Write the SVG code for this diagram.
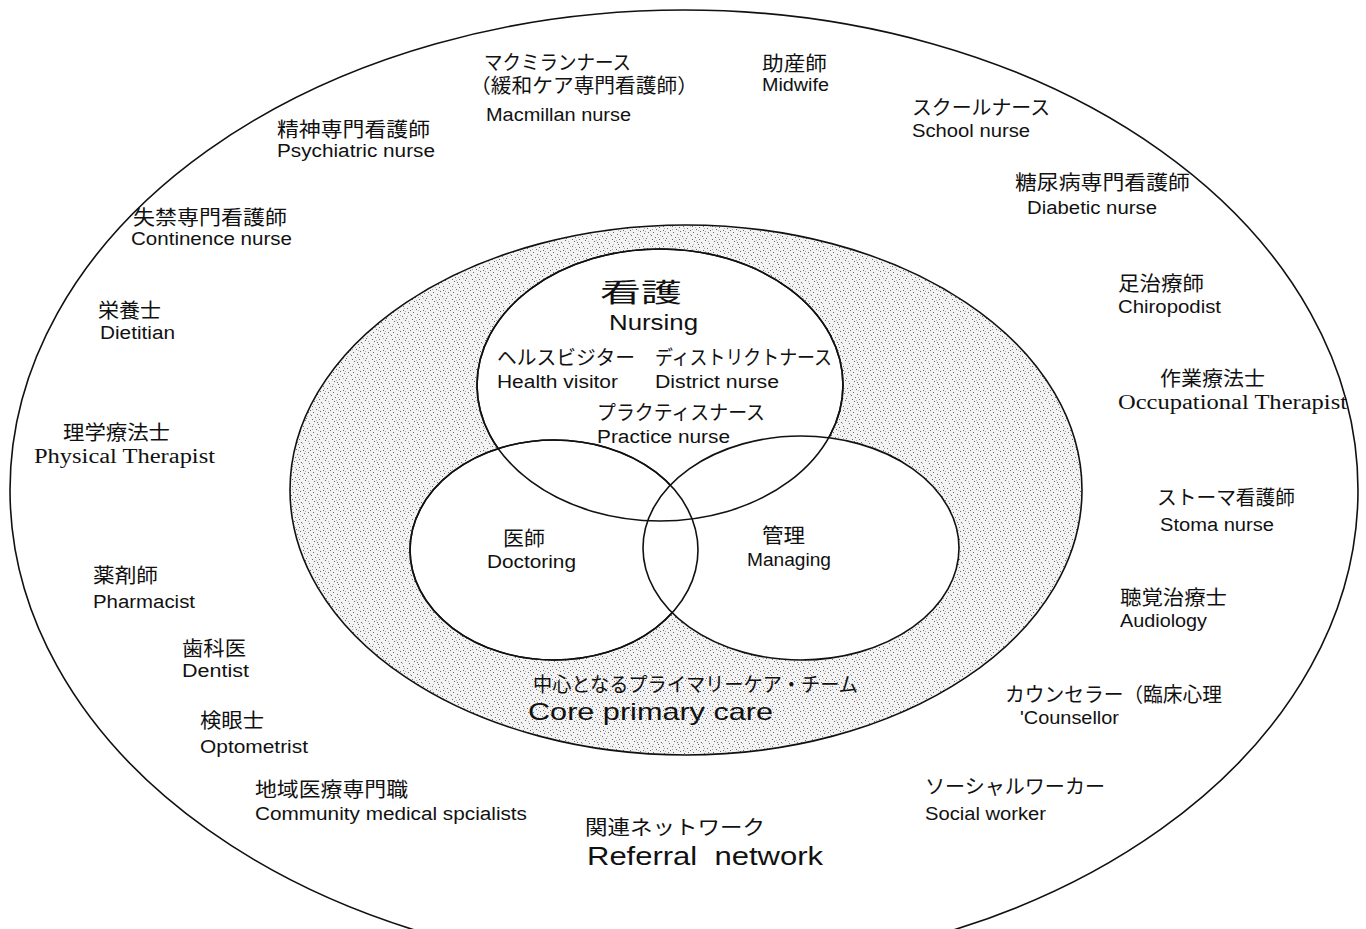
<svg xmlns="http://www.w3.org/2000/svg" width="1366" height="929" viewBox="0 0 1366 929">
<defs>
<pattern id="stipple" width="20" height="20" patternUnits="userSpaceOnUse">
<rect width="20" height="20" fill="#f3f3f3"/>
<g fill="#6a6a6a">
<rect x="1" y="2" width="1" height="1"/><rect x="5" y="0" width="1" height="1"/><rect x="9" y="3" width="1" height="1"/><rect x="14" y="1" width="1" height="1"/><rect x="18" y="4" width="1" height="1"/><rect x="3" y="6" width="1" height="1"/><rect x="7" y="8" width="1" height="1"/><rect x="12" y="6" width="1" height="1"/><rect x="16" y="9" width="1" height="1"/><rect x="19" y="7" width="1" height="1"/><rect x="0" y="11" width="1" height="1"/><rect x="4" y="13" width="1" height="1"/><rect x="10" y="10" width="1" height="1"/><rect x="13" y="12" width="1" height="1"/><rect x="17" y="14" width="1" height="1"/><rect x="2" y="16" width="1" height="1"/><rect x="6" y="18" width="1" height="1"/><rect x="11" y="15" width="1" height="1"/><rect x="15" y="17" width="1" height="1"/><rect x="19" y="19" width="1" height="1"/><rect x="8" y="12" width="1" height="1"/><rect x="12" y="19" width="1" height="1"/><rect x="3" y="10" width="1" height="1"/><rect x="17" y="2" width="1" height="1"/>
</g>
<g fill="#b0b0b0">
<rect x="2" y="3" width="1" height="1"/><rect x="8" y="1" width="1" height="1"/><rect x="13" y="4" width="1" height="1"/><rect x="18" y="10" width="1" height="1"/><rect x="5" y="11" width="1" height="1"/><rect x="10" y="14" width="1" height="1"/><rect x="15" y="7" width="1" height="1"/><rect x="0" y="15" width="1" height="1"/><rect x="7" y="16" width="1" height="1"/><rect x="18" y="17" width="1" height="1"/><rect x="4" y="8" width="1" height="1"/><rect x="12" y="9" width="1" height="1"/><rect x="16" y="0" width="1" height="1"/><rect x="3" y="18" width="1" height="1"/><rect x="10" y="6" width="1" height="1"/>
</g>
</pattern>
</defs>
<style>
.ln{fill:none;stroke:#111;stroke-width:1.6}
.w{fill:#fff;stroke:#111;stroke-width:1.6}
text{fill:#111;font-family:'Liberation Sans','Noto Sans CJK JP',sans-serif}
.j{font-size:20px}
.e{font-size:18px}
.s{font-family:'Liberation Serif','Noto Sans CJK JP',serif;font-size:20px}
.big{font-size:26px}
</style>
<rect width="1366" height="929" fill="#fff"/>

<g id="referral-network">
<ellipse class="ln" cx="684" cy="490" rx="674" ry="480"/>
<text class="j" x="585" y="835" textLength="180" lengthAdjust="spacingAndGlyphs">関連ネットワーク</text>
<text class="big" x="587" y="865" textLength="236" lengthAdjust="spacingAndGlyphs" xml:space="preserve">Referral  network</text>
</g>

<g id="core-primary-care">
<ellipse cx="686" cy="490" rx="396" ry="265" fill="url(#stipple)" stroke="#111" stroke-width="1.6"/>
<text class="j" x="533" y="692" textLength="325" lengthAdjust="spacingAndGlyphs">中心となるプライマリーケア・チーム</text>
<text x="528" y="720" font-size="24" textLength="245" lengthAdjust="spacingAndGlyphs">Core primary care</text>
</g>

<g id="circles">
<ellipse class="w" cx="660" cy="385" rx="183" ry="136"/>
<ellipse class="w" cx="554" cy="550" rx="144" ry="110"/>
<ellipse class="w" cx="801" cy="548" rx="158" ry="112"/>
<ellipse class="ln" cx="660" cy="385" rx="183" ry="136"/>
<ellipse class="ln" cx="554" cy="550" rx="144" ry="110"/>
</g>

<g id="nursing">
<text x="600" y="302" font-size="26" textLength="82" lengthAdjust="spacingAndGlyphs">看護</text>
<text x="609" y="330" font-size="22" textLength="89" lengthAdjust="spacingAndGlyphs">Nursing</text>
</g>
<g id="health-visitor">
<text class="j" x="497" y="365" textLength="138" lengthAdjust="spacingAndGlyphs">ヘルスビジター</text>
<text class="e" x="497" y="388" textLength="121" lengthAdjust="spacingAndGlyphs">Health visitor</text>
</g>
<g id="district-nurse">
<text class="j" x="655" y="365" textLength="177" lengthAdjust="spacingAndGlyphs">ディストリクトナース</text>
<text class="e" x="655" y="388" textLength="124" lengthAdjust="spacingAndGlyphs">District nurse</text>
</g>
<g id="practice-nurse">
<text class="j" x="597" y="420" textLength="168" lengthAdjust="spacingAndGlyphs">プラクティスナース</text>
<text class="e" x="597" y="443" textLength="133" lengthAdjust="spacingAndGlyphs">Practice nurse</text>
</g>
<g id="doctoring">
<text class="j" x="503" y="546" textLength="42" lengthAdjust="spacingAndGlyphs">医師</text>
<text class="e" x="487" y="568" textLength="89" lengthAdjust="spacingAndGlyphs">Doctoring</text>
</g>
<g id="managing">
<text class="j" x="762" y="543" textLength="43" lengthAdjust="spacingAndGlyphs">管理</text>
<text class="e" x="747" y="566" textLength="84" lengthAdjust="spacingAndGlyphs">Managing</text>
</g>

<g id="macmillan-nurse">
<text class="j" x="484" y="70" textLength="147" lengthAdjust="spacingAndGlyphs">マクミランナース</text>
<text class="j" x="470" y="93" textLength="228" lengthAdjust="spacingAndGlyphs">（緩和ケア専門看護師）</text>
<text class="e" x="486" y="121" textLength="145" lengthAdjust="spacingAndGlyphs">Macmillan nurse</text>
</g>
<g id="midwife">
<text class="j" x="762" y="71" textLength="65" lengthAdjust="spacingAndGlyphs">助産師</text>
<text class="e" x="762" y="91" textLength="67" lengthAdjust="spacingAndGlyphs">Midwife</text>
</g>
<g id="school-nurse">
<text class="j" x="912" y="115" textLength="138" lengthAdjust="spacingAndGlyphs">スクールナース</text>
<text class="e" x="912" y="137" textLength="118" lengthAdjust="spacingAndGlyphs">School nurse</text>
</g>
<g id="diabetic-nurse">
<text class="j" x="1015" y="190" textLength="175" lengthAdjust="spacingAndGlyphs">糖尿病専門看護師</text>
<text class="e" x="1027" y="214" textLength="130" lengthAdjust="spacingAndGlyphs">Diabetic nurse</text>
</g>
<g id="chiropodist">
<text class="j" x="1118" y="291" textLength="86" lengthAdjust="spacingAndGlyphs">足治療師</text>
<text class="e" x="1118" y="313" textLength="103" lengthAdjust="spacingAndGlyphs">Chiropodist</text>
</g>
<g id="occupational-therapist">
<text class="s" x="1160" y="386" textLength="105" lengthAdjust="spacingAndGlyphs">作業療法士</text>
<text class="s" x="1118" y="409" textLength="229" lengthAdjust="spacingAndGlyphs">Occupational Therapist</text>
</g>
<g id="stoma-nurse">
<text class="j" x="1157" y="505" textLength="138" lengthAdjust="spacingAndGlyphs">ストーマ看護師</text>
<text class="e" x="1160" y="531" textLength="114" lengthAdjust="spacingAndGlyphs">Stoma nurse</text>
</g>
<g id="audiology">
<text class="j" x="1120" y="605" textLength="107" lengthAdjust="spacingAndGlyphs">聴覚治療士</text>
<text class="e" x="1120" y="627" textLength="87" lengthAdjust="spacingAndGlyphs">Audiology</text>
</g>
<g id="counsellor">
<text class="j" x="1005" y="702" textLength="217" lengthAdjust="spacingAndGlyphs">カウンセラー（臨床心理</text>
<text class="e" x="1020" y="724" textLength="99" lengthAdjust="spacingAndGlyphs">'Counsellor</text>
</g>
<g id="social-worker">
<text class="j" x="925" y="794" textLength="180" lengthAdjust="spacingAndGlyphs">ソーシャルワーカー</text>
<text class="e" x="925" y="820" textLength="121" lengthAdjust="spacingAndGlyphs">Social worker</text>
</g>
<g id="community-medical-specialists">
<text class="j" x="255" y="797" textLength="153" lengthAdjust="spacingAndGlyphs">地域医療専門職</text>
<text class="e" x="255" y="820" textLength="272" lengthAdjust="spacingAndGlyphs">Community medical spcialists</text>
</g>
<g id="optometrist">
<text class="j" x="200" y="728" textLength="64" lengthAdjust="spacingAndGlyphs">検眼士</text>
<text class="e" x="200" y="753" textLength="108" lengthAdjust="spacingAndGlyphs">Optometrist</text>
</g>
<g id="dentist">
<text class="j" x="182" y="656" textLength="64" lengthAdjust="spacingAndGlyphs">歯科医</text>
<text class="e" x="182" y="677" textLength="67" lengthAdjust="spacingAndGlyphs">Dentist</text>
</g>
<g id="pharmacist">
<text class="j" x="93" y="583" textLength="65" lengthAdjust="spacingAndGlyphs">薬剤師</text>
<text class="e" x="93" y="608" textLength="102" lengthAdjust="spacingAndGlyphs">Pharmacist</text>
</g>
<g id="physical-therapist">
<text class="s" x="63" y="440" textLength="107" lengthAdjust="spacingAndGlyphs">理学療法士</text>
<text class="s" x="34" y="463" textLength="181" lengthAdjust="spacingAndGlyphs">Physical Therapist</text>
</g>
<g id="dietitian">
<text class="j" x="98" y="318" textLength="63" lengthAdjust="spacingAndGlyphs">栄養士</text>
<text class="e" x="100" y="339" textLength="75" lengthAdjust="spacingAndGlyphs">Dietitian</text>
</g>
<g id="continence-nurse">
<text class="j" x="133" y="225" textLength="154" lengthAdjust="spacingAndGlyphs">失禁専門看護師</text>
<text class="e" x="131" y="245" textLength="161" lengthAdjust="spacingAndGlyphs">Continence nurse</text>
</g>
<g id="psychiatric-nurse">
<text class="j" x="277" y="137" textLength="153" lengthAdjust="spacingAndGlyphs">精神専門看護師</text>
<text class="e" x="277" y="157" textLength="158" lengthAdjust="spacingAndGlyphs">Psychiatric nurse</text>
</g>

<g id="connectors"/>
</svg>
